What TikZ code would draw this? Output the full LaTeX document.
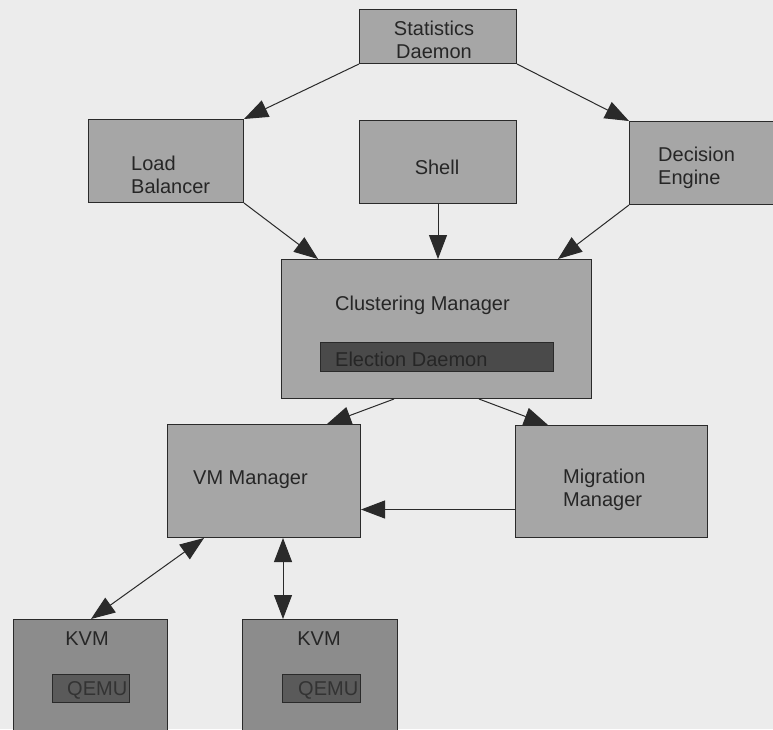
\documentclass[tikz,border=0pt]{standalone}
\usepackage{fontspec}
\setmainfont{Liberation Sans}
\usetikzlibrary{arrows.meta,calc}
\definecolor{bgc}{HTML}{ECECEC}
\definecolor{boxc}{HTML}{A6A6A6}
\definecolor{kvmc}{HTML}{8C8C8C}
\definecolor{darkbar}{HTML}{4A4A4A}
\definecolor{qemuc}{HTML}{5A5A5A}
\definecolor{linec}{HTML}{2A2A2A}
\definecolor{txtc}{HTML}{262626}
\tikzset{
  tip/.tip={Triangle[length=24pt,width=18pt]}
}
\begin{document}
\begin{tikzpicture}[x=1pt,y=-1pt,
  box/.style={draw=linec,line width=1pt,fill=boxc,inner sep=0pt,anchor=north west},
  kvmbox/.style={box,fill=kvmc},
  barbox/.style={box,fill=darkbar},
  qemubox/.style={box,fill=qemuc},
  txt/.style={inner sep=0pt,text=txtc,font=\fontsize{20}{23}\selectfont},
  ltxt/.style={txt,anchor=west,align=left},
  ctxt/.style={txt,anchor=center,align=center},
  arr/.style={draw=linec,line width=1pt,-tip},
  darr/.style={draw=linec,line width=1pt,tip-tip}
]
\useasboundingbox (0,0) rectangle (773,729);
\clip (0,0) rectangle (773,729);
\fill[bgc] (0,0) rectangle (773,729);

% boxes
\node[box,minimum width=157pt,minimum height=54pt] (stat) at (359,9) {};
\node[box,minimum width=155pt,minimum height=83pt] (lb) at (88,119) {};
\node[box,minimum width=157pt,minimum height=83pt] (shell) at (359,120) {};
\node[box,minimum width=170pt,minimum height=83pt] (dec) at (629,121) {};
\node[box,minimum width=310pt,minimum height=139pt] (clust) at (281,259) {};
\node[barbox,minimum width=233pt,minimum height=29pt] (elect) at (320,342) {};
\node[box,minimum width=193pt,minimum height=113pt] (vm) at (167,424) {};
\node[box,minimum width=192pt,minimum height=112pt] (mig) at (515,425) {};
\node[kvmbox,minimum width=154pt,minimum height=130pt] (kvma) at (13,619) {};
\node[qemubox,minimum width=77pt,minimum height=28pt] (qemua) at (52,674) {};
\node[kvmbox,minimum width=155pt,minimum height=130pt] (kvmb) at (242,619) {};
\node[qemubox,minimum width=78pt,minimum height=28pt] (qemub) at (282,674) {};

% texts
\node[ctxt] (tstat) at (434,40) {Statistics\\Daemon};
\node[ltxt] (tlb) at (131,175) {Load\\Balancer};
\node[ctxt] (tshell) at (437,167) {Shell};
\node[ltxt] (tdec) at (658,168) {Decision\\Engine};
\node[ltxt] (tclust) at (335,305) {Clustering Manager};
\node[ltxt,text=black!85] (telect) at (335,359) {Election Daemon};
\node[ltxt] (tvm) at (193,480) {VM Manager};
\node[ltxt] (tmig) at (563,490) {Migration\\Manager};
\node[ctxt] (tkvma) at (87,639) {KVM};
\node[ctxt] (tkvmb) at (319,639) {KVM};
\node[ltxt,text=black!80] (tqa) at (67,690) {QEMU};
\node[ltxt,text=black!80] (tqb) at (298,690) {QEMU};

% connectors
\draw[arr] (stat.south west) -- (lb.north east);
\draw[arr] (stat.south east) -- (dec.north west);
\draw[arr] (lb.south east) -- ([xshift=37]clust.north west);
\draw[arr] (shell.south) -- (shell.south |- clust.north);
\draw[arr] (dec.south west) -- ([xshift=-34]clust.north east);
\draw[arr] ([xshift=113]clust.south west) -- ([xshift=-34]vm.north east);
\draw[arr] ([xshift=198]clust.south west) -- ([xshift=33]mig.north west);
\coordinate (migport) at ([yshift=-28]mig.west);
\draw[arr] (migport) -- (migport -| vm.east);
\draw[darr] ([xshift=37]vm.south west) -- ([xshift=78]kvma.north west);
\coordinate (kvmbport) at ([xshift=41]kvmb.north west);
\draw[darr] (kvmbport |- vm.south) -- (kvmbport);
\end{tikzpicture}
\end{document}
